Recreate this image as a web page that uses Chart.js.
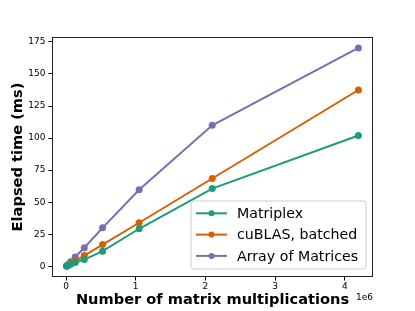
<!DOCTYPE html>
<html><head><meta charset="utf-8">
<script src="https://cdn.jsdelivr.net/npm/chart.js@4/dist/chart.umd.min.js"></script>
<style>html,body{margin:0;padding:0;background:#fff}#w{width:415px;height:311px}</style>
</head><body><div id="w"><canvas id="c" width="415" height="311"></canvas></div>
<script>
const nMult = [8192, 16384, 32768, 65536, 131072, 262144, 524288, 1048576, 2097152, 4194304];
const matriplex = [0.2, 0.3, 0.8, 1.6, 3.0, 5.3, 11.8, 29.3, 60.6, 102];
const cublasBatched = [0.2, 0.4, 1.0, 2.2, 4.2, 8.4, 17, 34, 68.5, 137.5];
const arrayOfMatrices = [0.3, 0.6, 1.5, 3.5, 7.3, 14.5, 30, 59.7, 110, 170.3];
const seriesNames = ["Matriplex", "cuBLAS, batched", "Array of Matrices"];
const seriesColors = ["#1b9e77", "#d95f02", "#7570b3"];
const xTicks = [0, 1e6, 2e6, 3e6, 4e6];
const yTicks = [0, 25, 50, 75, 100, 125, 150, 175];

const allY = matriplex.concat(cublasBatched, arrayOfMatrices);
function margins(arr){const lo=Math.min(...arr),hi=Math.max(...arr),m=(hi-lo)*0.05;return [lo-m,hi+m];}
const [xmin,xmax]=margins(nMult);
const [ymin,ymax]=margins(allY);

const series=[matriplex,cublasBatched,arrayOfMatrices];
const datasets=series.map((s,i)=>({
  label:seriesNames[i],
  data:nMult.map((x,j)=>({x:x,y:s[j]})),
  borderColor:seriesColors[i],backgroundColor:seriesColors[i],
  borderWidth:2,pointRadius:3.5,pointBorderWidth:0,pointBackgroundColor:seriesColors[i],
  tension:0,fill:false
}));

const FONT="'DejaVu Sans', sans-serif";
const framePlugin={id:'frame',
  afterDatasetsDraw(chart){
    const a=chart.chartArea,ctx=chart.ctx;
    ctx.save();ctx.strokeStyle='#222';ctx.lineWidth=1;
    ctx.strokeRect(Math.round(a.left)+0.5,Math.round(a.top)+0.5,Math.round(a.right-a.left)-1,Math.round(a.bottom-a.top)-1);
    ctx.restore();
  },
  afterDraw(chart){
    const ctx=chart.ctx,a=chart.chartArea;
    ctx.save();
    ctx.font="9px "+FONT;ctx.fillStyle='#000';ctx.textAlign='right';ctx.textBaseline='middle';
    ctx.fillText('1e6',a.right,298);
    // legend
    const bx=191,by=201,bw=175,bh=68,r=3;
    ctx.beginPath();
    ctx.moveTo(bx+r,by);ctx.lineTo(bx+bw-r,by);ctx.quadraticCurveTo(bx+bw,by,bx+bw,by+r);
    ctx.lineTo(bx+bw,by+bh-r);ctx.quadraticCurveTo(bx+bw,by+bh,bx+bw-r,by+bh);
    ctx.lineTo(bx+r,by+bh);ctx.quadraticCurveTo(bx,by+bh,bx,by+bh-r);
    ctx.lineTo(bx,by+r);ctx.quadraticCurveTo(bx,by,bx+r,by);ctx.closePath();
    ctx.fillStyle='rgba(255,255,255,0.8)';ctx.fill();
    ctx.strokeStyle='#cccccc';ctx.lineWidth=1;ctx.stroke();
    ctx.font="14.2px "+FONT;ctx.textAlign='left';ctx.textBaseline='middle';
    chart.data.datasets.forEach((d,i)=>{
      const y=213.3+i*21.3;
      ctx.strokeStyle=d.borderColor;ctx.lineWidth=2;
      ctx.beginPath();ctx.moveTo(196,y);ctx.lineTo(227,y);ctx.stroke();
      ctx.fillStyle=d.borderColor;ctx.beginPath();ctx.arc(211.5,y,3,0,Math.PI*2);ctx.fill();
      ctx.fillStyle='#000';ctx.fillText(d.label,237,y+1);
    });
    ctx.restore();
  }
};

new Chart(document.getElementById('c'),{
  type:'line',
  data:{datasets:datasets},
  options:{
    responsive:false,animation:false,devicePixelRatio:1,
    layout:{padding:{top:37,right:42,left:0,bottom:0}},
    plugins:{legend:{display:false},tooltip:{enabled:false}},
    scales:{
      x:{type:'linear',min:xmin,max:xmax,
        afterBuildTicks(s){s.ticks=xTicks.map(v=>({value:v}));},
        afterFit(s){s.height=34;},
        ticks:{font:{family:FONT,size:9},color:'#000',padding:1,maxRotation:0,autoSkip:false,
          callback:(v)=>String(v/1e6)},
        grid:{drawOnChartArea:false,drawTicks:true,tickLength:3.5,color:'#000'},
        border:{display:false},
        title:{display:true,text:'Number of matrix multiplications',font:{family:FONT,size:14.6,weight:'bold'},color:'#000',padding:{top:0,bottom:2.5}}
      },
      y:{type:'linear',min:ymin,max:ymax,
        afterBuildTicks(s){s.ticks=yTicks.map(v=>({value:v}));},
        afterFit(s){s.width=52;},
        ticks:{font:{family:FONT,size:9},color:'#000',padding:3,autoSkip:false},
        grid:{drawOnChartArea:false,drawTicks:true,tickLength:3.5,color:'#000'},
        border:{display:false},
        title:{display:true,text:'Elapsed time (ms)',font:{family:FONT,size:14.6,weight:'bold'},color:'#000',padding:{top:9,bottom:0}}
      }
    }
  },
  plugins:[framePlugin]
});
</script></body></html>
